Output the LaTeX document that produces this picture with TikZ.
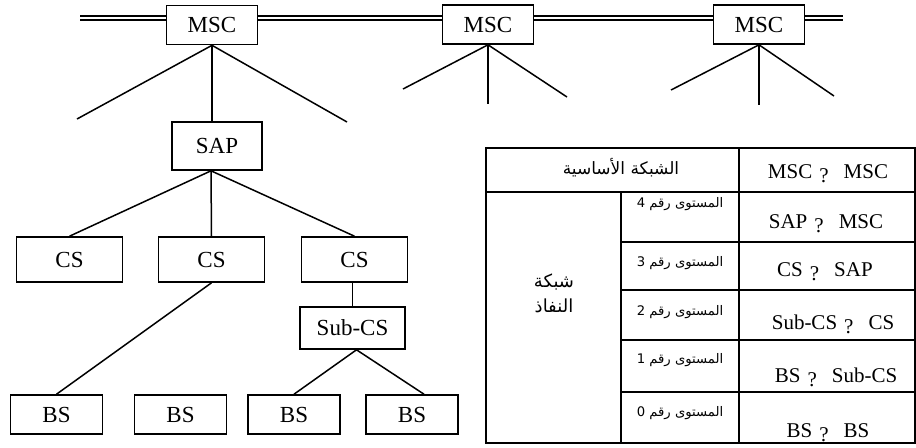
\documentclass[tikz,border=0pt]{standalone}
\usepackage{fontspec}
\setmainfont{Liberation Serif}
\newfontfamily\arabicfont[Script=Arabic]{DejaVu Sans}
\TeXXeTstate=1

\tikzset{
  unit/.style={draw, fill=white, line width=0.8pt, inner sep=0pt,
    font=\fontsize{11.5}{13}\selectfont},
  mscbox/.style={unit, minimum width=45.5pt, minimum height=19.5pt},
  csbox/.style={unit, minimum width=53pt, minimum height=22.5pt},
  bsbox/.style={unit, minimum width=46pt, minimum height=19.5pt},
  link/.style={line width=0.75pt},
  bus/.style={double, double distance=1.3pt, line width=0.7pt},
  grid/.style={line width=0.9pt},
  pair/.style={anchor=base, font=\fontsize{10.5}{12}\selectfont},
  level/.style={font=\arabicfont\fontsize{6.6}{8}\selectfont},
  zone/.style={font=\arabicfont\fontsize{8.5}{11}\selectfont, align=center},
}
\newcommand{\qmark}{\hspace{3.5pt}\raisebox{-0.5ex}{?}\hspace{7.5pt}}

\begin{document}
\begin{tikzpicture}[x=0.5pt, y=-0.5pt]
  \useasboundingbox (0,0) rectangle (916,447);

  % MSC backbone
  \node[mscbox] (msc1) at (212,25) {MSC};
  \node[mscbox] (msc2) at (488,24.5) {MSC};
  \node[mscbox] (msc3) at (759,24.5) {MSC};
  \coordinate (busL) at (80,18);
  \coordinate (busR) at (843,18);
  \draw[bus] (busL) -- (busL -| msc1.west)
    (busL -| msc1.east) -- (busL -| msc2.west)
    (busL -| msc2.east) -- (busL -| msc3.west)
    (busL -| msc3.east) -- (busR);

  % access tree
  \node[unit, minimum width=45pt, minimum height=24pt] (sap) at (217,146) {SAP};
  \node[csbox] (cs1) at (69.5,259.5) {CS};
  \node[csbox] (cs2) at (211.5,259.5) {CS};
  \node[csbox] (cs3) at (354.5,259.5) {CS};
  \node[unit, minimum width=52.5pt, minimum height=21pt] (subcs) at (352.5,328) {Sub-CS};
  \node[bsbox] (bs1) at (56.5,414.5) {BS};
  \node[bsbox] (bs2) at (180.5,414.5) {BS};
  \node[bsbox] (bs3) at (294,414.5) {BS};
  \node[bsbox] (bs4) at (412,414.5) {BS};

  % open branches
  \coordinate (m1l) at (77,119);
  \coordinate (m1r) at (347,122);
  \coordinate (m2l) at (403,89);
  \coordinate (m2m) at (488,104);
  \coordinate (m2r) at (567,97);
  \coordinate (m3l) at (671,90);
  \coordinate (m3m) at (759,105);
  \coordinate (m3r) at (834,96);

  \draw[link] (m1l) -- (msc1.south) -- (m1r);
  \draw[link] (msc1.south) -- (msc1.south |- sap.north);
  \draw[link] (m2l) -- (msc2.south) -- (m2r);
  \draw[link] (msc2.south) -- (m2m);
  \draw[link] (m3l) -- (msc3.south) -- (m3r);
  \draw[link] (msc3.south) -- (m3m);

  \draw[link] (cs1.north) -- ([xshift=-3pt]sap.south) -- (cs3.north);
  \draw[link] ([xshift=-3pt]sap.south) -- (cs2.north);
  \draw[link] (cs2.south) -- (bs1.north);
  \draw[link] (subcs.north |- cs3.south) -- (subcs.north);
  \draw[link] (bs3.north) -- ([xshift=2pt]subcs.south) -- ([xshift=6pt]bs4.north);

  % levels table
  \draw[grid] (486,148) rectangle (915,443);
  \draw[grid] (486,192) -- (915,192);
  \draw[grid] (739,148) -- (739,443);
  \draw[grid] (621,192) -- (621,443);
  \foreach \y in {242,290,340,392}
    \draw[grid] (621,\y) -- (915,\y);

  \node[zone] (core) at (621,168) {\beginR الشبكة الأساسية\endR};
  \node[zone, font=\arabicfont\fontsize{9}{12.5}\selectfont] (access) at (554,293)
    {\beginR شبكة\endR\\\beginR النفاذ\endR};

  \node[level] (lv4) at (680,204) {\beginR المستوى رقم 4\endR};
  \node[level] (lv3) at (680,263) {\beginR المستوى رقم 3\endR};
  \node[level] (lv2) at (680,312) {\beginR المستوى رقم 2\endR};
  \node[level] (lv1) at (680,360) {\beginR المستوى رقم 1\endR};
  \node[level] (lv0) at (680,413) {\beginR المستوى رقم 0\endR};

  \node[pair] (p5) at (828,178) {MSC\qmark MSC};
  \node[pair] (p4) at (826,228) {SAP\qmark MSC};
  \node[pair] (p3) at (825,276) {CS\qmark SAP};
  \node[pair] (p2) at (833,329) {Sub-CS\qmark CS};
  \node[pair] (p1) at (836,382) {BS\qmark Sub-CS};
  \node[pair] (p0) at (828,437) {BS\qmark BS};
\end{tikzpicture}
\end{document}
